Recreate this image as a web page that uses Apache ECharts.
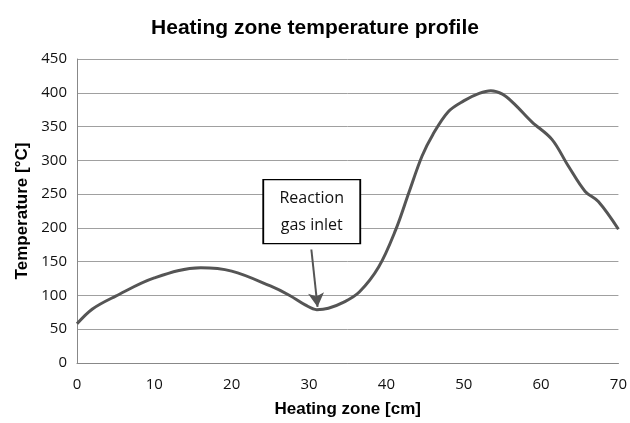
<!DOCTYPE html>
<html>
<head>
<meta charset="utf-8">
<script src="https://cdn.jsdelivr.net/npm/echarts@6/dist/echarts.min.js"></script>
<style>
  html, body { margin: 0; padding: 0; background: #fff; }
  #chart { width: 630px; height: 423px; }
</style>
</head>
<body>
<div id="chart"></div>
<script>
// positions along the heating zone [cm] and the read temperatures [°C]
const zonePos = [0, 2, 5, 10, 16, 20, 25, 27.5, 29.5, 31, 32.5, 34.5, 36.5, 39, 41.2, 42.9, 44.6, 46, 48, 50, 52, 53.5, 55, 56.5, 58.8, 61.4, 63.5, 65.7, 67.4, 70];
const temps   = [58, 80, 99, 126, 141, 136, 114, 100, 86, 79, 81, 90, 105, 142, 197, 252, 306, 338, 372, 388, 399, 403, 398, 384, 357, 331, 292, 254, 239, 198];
const xTicks = [0, 10, 20, 30, 40, 50, 60, 70];
const yTicks = [0, 50, 100, 150, 200, 250, 300, 350, 400, 450];

// annotation: box centre, arrow start/end in data units
const noteText = 'Reaction\ngas inlet';
const noteAt = [30.35, 224];
const arrowFrom = [30.3, 168];
const arrowTo = [31.1, 83];

const points = zonePos.map((x, i) => [x, temps[i]]);

const chart = echarts.init(document.getElementById('chart'));
chart.setOption({
  animation: false,
  title: {
    text: 'Heating zone temperature profile',
    left: 'center',
    top: 13,
    textStyle: { fontFamily: 'Liberation Sans', fontSize: 21, fontWeight: 'bold', color: '#000' }
  },
  grid: { left: 77, right: 10, top: 59, bottom: 59 },
  xAxis: {
    type: 'value',
    min: xTicks[0],
    max: xTicks[xTicks.length - 1],
    interval: 10,
    name: 'Heating zone [cm]',
    nameLocation: 'middle',
    nameGap: 38,
    nameTextStyle: { fontFamily: 'Liberation Sans', fontSize: 17, fontWeight: 'bold', color: '#000' },
    axisLine: { lineStyle: { color: '#888', width: 1 } },
    axisTick: { show: false },
    axisLabel: { fontFamily: 'Open Sans', fontSize: 15, color: '#111', margin: 14 },
    splitLine: { show: false }
  },
  yAxis: {
    type: 'value',
    min: yTicks[0],
    max: yTicks[yTicks.length - 1],
    interval: 50,
    name: 'Temperature [°C]',
    nameLocation: 'middle',
    nameGap: 46,
    nameTextStyle: { fontFamily: 'Liberation Sans', fontSize: 17, fontWeight: 'bold', color: '#000' },
    axisLine: { show: true, lineStyle: { color: '#888', width: 1 } },
    axisTick: { show: false },
    axisLabel: { fontFamily: 'Open Sans', fontSize: 15, color: '#111', margin: 10 },
    splitLine: { lineStyle: { color: '#a0a0a0', width: 1 } }
  },
  series: [{
    type: 'line',
    data: points,
    smooth: 0.35,
    showSymbol: false,
    lineStyle: { color: '#555', width: 3 },
    markLine: {
      silent: true,
      symbol: ['none', 'arrow'],
      symbolSize: [12, 14],
      lineStyle: { color: '#555', width: 2, type: 'solid' },
      label: { show: false },
      data: [[{ coord: arrowFrom }, { coord: arrowTo }]]
    },
    markPoint: {
      silent: true,
      symbol: 'rect',
      symbolSize: [97, 64],
      itemStyle: { color: '#fff', borderColor: '#000', borderWidth: 1.5 },
      label: {
        show: true,
        position: 'inside',
        formatter: noteText,
        fontFamily: 'Open Sans',
        fontSize: 16,
        lineHeight: 27,
        color: '#111'
      },
      data: [{ coord: noteAt }]
    }
  }]
});
</script>
</body>
</html>
